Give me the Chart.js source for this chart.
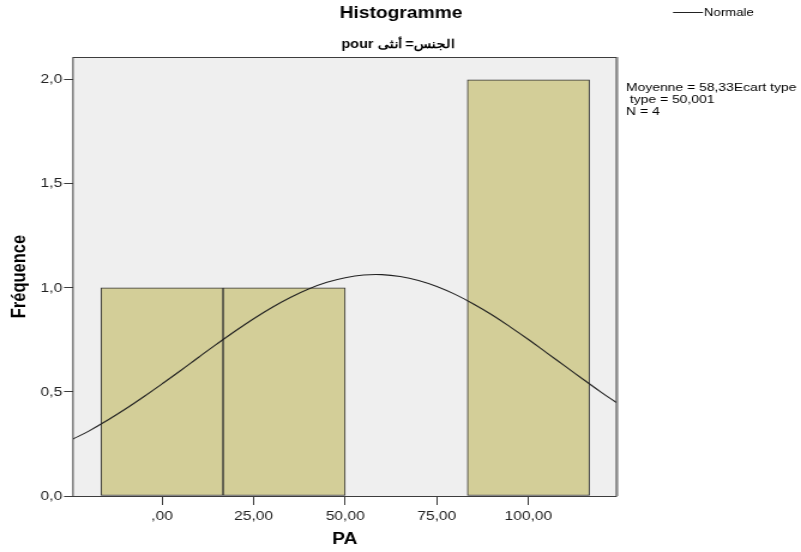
<!DOCTYPE html>
<html>
<head>
<meta charset="utf-8">
<script src="https://cdn.jsdelivr.net/npm/chart.js@4"></script>
<style>
    html, body { margin: 0; padding: 0; background: #ffffff; }
    #wrap { width: 801px; height: 552px; }
    /* the reference picture is stretched sideways, so the canvas is drawn narrower and widened */
    #histo { width: 801px; height: 552px; display: block; }
</style>
</head>
<body>
<div id="wrap"><canvas id="histo" width="668" height="552" style="width:801px;height:552px"></canvas></div>
<script>
// Histogram bins (PA), counts
const binCenters = [0, 33.33, 66.67, 100];
const binCounts = [1, 1, 0, 2];

// Normal curve
const curveX = [-24.3, -20, -15, -10, -5, 0, 5, 10, 15, 20, 25, 30, 35, 40, 45, 50, 55, 60,
                65, 70, 75, 80, 85, 90, 95, 100, 105, 110, 115, 120, 124];
const curveY = [0.274, 0.312, 0.363, 0.418, 0.477, 0.539, 0.602, 0.667, 0.731, 0.793, 0.852, 0.906,
                0.954, 0.995, 1.027, 1.049, 1.062, 1.064, 1.055, 1.036, 1.007, 0.969, 0.923, 0.871,
                0.813, 0.752, 0.688, 0.624, 0.560, 0.497, 0.449];

// Axis ticks
const xTickValues = [0, 25, 50, 75, 100];
const xTickLabels = [',00', '25,00', '50,00', '75,00', '100,00'];
const yTickValues = [0, 0.5, 1, 1.5, 2];
const yTickLabels = ['0,0', '0,5', '1,0', '1,5', '2,0'];

// Texts
const chartTitle = 'Histogramme';
const chartSubtitle = 'pour الجنس= أنثى';
const statsLines = ['Moyenne = 58,33Ecart type', ' type = 50,001', 'N = 4'];
const legendLabel = 'Normale';

const FONT = '"Liberation Sans", Arial, sans-serif';
const SX = 668 / 801; // page x -> canvas x

// Grey plot background + frame + side texts
const framePlugin = {
    id: 'frame',
    beforeDraw(chart) {
        const { ctx, chartArea: a } = chart;
        ctx.save();
        ctx.fillStyle = '#efefef';
        ctx.fillRect(a.left, a.top, a.right - a.left, a.bottom - a.top);
        ctx.restore();
    },
    afterDraw(chart) {
        const { ctx, chartArea: a } = chart;
        ctx.save();
        ctx.strokeStyle = '#3c3c3c';
        ctx.lineWidth = 1;
        ctx.strokeRect(a.left, a.top + 0.5, a.right - a.left, a.bottom - a.top);
        ctx.strokeStyle = '#8a8a8a';
        ctx.lineWidth = 1.6;
        ctx.beginPath();
        ctx.moveTo(a.right + 0.8, a.top);
        ctx.lineTo(a.right + 0.8, a.bottom);
        ctx.stroke();

        // titles
        ctx.fillStyle = '#000';
        ctx.textAlign = 'center';
        ctx.textBaseline = 'middle';
        ctx.font = 'bold 16px ' + FONT;
        ctx.fillText(chartTitle, 401 * SX, 14);
        ctx.font = 'bold 12px ' + FONT;
        ctx.fillText(chartSubtitle, 398 * SX, 45);

        // legend
        ctx.strokeStyle = '#222';
        ctx.lineWidth = 1;
        ctx.beginPath();
        ctx.moveTo(673 * SX, 12.5);
        ctx.lineTo(703 * SX, 12.5);
        ctx.stroke();
        ctx.textAlign = 'left';
        ctx.font = '11px ' + FONT;
        ctx.fillText(legendLabel, 704 * SX, 13);

        // statistics box
        ctx.font = '11.6px ' + FONT;
        statsLines.forEach((line, i) => {
            ctx.fillText(line, 626 * SX, 88 + i * 12);
        });
        ctx.restore();
    }
};

new Chart(document.getElementById('histo'), {
    type: 'bar',
    data: {
        datasets: [{
            type: 'line',
            label: legendLabel,
            data: curveX.map((x, i) => ({ x: x, y: curveY[i] })),
            borderColor: '#222',
            borderWidth: 1.1,
            pointRadius: 0,
            tension: 0.4,
            fill: false,
            order: 0
        }, {
            label: 'PA',
            data: binCenters.map((x, i) => ({ x: x, y: binCounts[i] })),
            backgroundColor: '#d3ce98',
            borderColor: '#333333',
            borderWidth: 1,
            borderSkipped: false,
            barThickness: 'flex',
            barPercentage: 1,
            categoryPercentage: 1,
            order: 1
        }]
    },
    options: {
        responsive: false,
        animation: false,
        devicePixelRatio: 1,
        layout: { padding: { left: 0, top: 57, right: Math.round((801 - 616) * SX), bottom: 0 } },
        plugins: {
            legend: { display: false },
            tooltip: { enabled: false },
            title: { display: false }
        },
        scales: {
            x: {
                type: 'linear',
                min: -24.3,
                max: 124,
                offset: false,
                afterFit: scale => { scale.height = 56; },
                afterBuildTicks: scale => {
                    scale.ticks = xTickValues.map(v => ({ value: v }));
                },
                grid: {
                    offset: false,
                    drawOnChartArea: false,
                    drawTicks: true,
                    tickLength: 9,
                    color: '#3c3c3c'
                },
                border: { display: false },
                ticks: {
                    maxRotation: 0,
                    padding: 4,
                    color: '#222',
                    font: { family: FONT, size: 13 },
                    callback: value => xTickLabels[xTickValues.indexOf(value)]
                },
                title: {
                    display: true,
                    text: 'PA',
                    color: '#000',
                    font: { family: FONT, size: 16, weight: 'bold' },
                    padding: { top: 0, bottom: 2.5 }
                }
            },
            y: {
                min: 0,
                max: 2.11,
                afterFit: scale => { scale.width = 73 * SX; },
                afterBuildTicks: scale => {
                    scale.ticks = yTickValues.map(v => ({ value: v }));
                },
                grid: {
                    drawOnChartArea: false,
                    drawTicks: true,
                    tickLength: 7.5,
                    color: '#3c3c3c'
                },
                border: { display: false },
                ticks: {
                    padding: 1.5,
                    color: '#222',
                    font: { family: FONT, size: 13 },
                    callback: value => yTickLabels[yTickValues.indexOf(value)]
                },
                title: {
                    display: true,
                    text: 'Fréquence',
                    color: '#000',
                    font: { family: FONT, size: 16.5, weight: 'bold' },
                    padding: { top: 7, bottom: 0 }
                }
            }
        }
    },
    plugins: [framePlugin]
});
</script>
</body>
</html>
